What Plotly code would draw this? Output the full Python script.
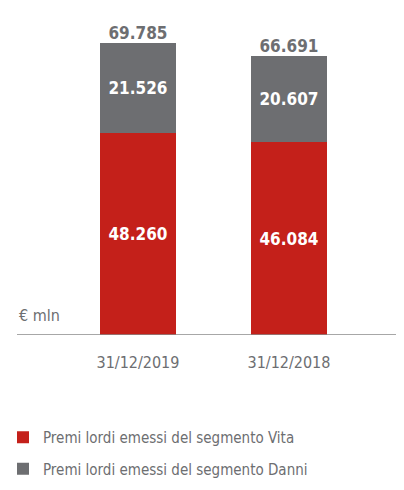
import plotly.graph_objects as go

categories = ["31/12/2019", "31/12/2018"]
vita = [48260, 46084]
danni = [21526, 20607]
totals = [69785, 66691]
vita_labels = ["48.260", "46.084"]
danni_labels = ["21.526", "20.607"]
total_labels = ["69.785", "66.691"]

RED = "#c4201a"
GRAY = "#6d6e71"
TXT = "#6d6e71"
FONT = "DejaVu Sans Condensed, Roboto, Arial"

# The page body has an 8px margin: figure is laid out at 388x474.
W, H = 388, 474
L = 9
PW = W - L

fig = go.Figure()
fig.add_trace(go.Bar(
    x=[0, 1], y=vita, name="Premi lordi emessi del segmento Vita",
    marker=dict(color=RED, line=dict(width=0)), width=0.503,
    text=vita_labels, textposition="inside", insidetextanchor="middle",
    textfont=dict(color="white", size=17, family=FONT, weight="bold"),
    legendgroup="a", hoverinfo="skip"))
fig.add_trace(go.Bar(
    x=[0, 1], y=danni, name="Premi lordi emessi del segmento Danni",
    marker=dict(color=GRAY, line=dict(width=0)), width=0.503,
    text=danni_labels, textposition="inside", insidetextanchor="middle",
    textfont=dict(color="white", size=17, family=FONT, weight="bold"),
    legendgroup="b", hoverinfo="skip"))
fig.add_trace(go.Scatter(
    x=[0, 1], y=totals, mode="text", text=total_labels,
    textposition="top center", showlegend=False,
    textfont=dict(color=TXT, size=17, family=FONT, weight="bold"),
    hoverinfo="skip", cliponaxis=False))

fig.update_layout(
    width=W, height=H, barmode="stack",
    margin=dict(l=L, r=0, t=12, b=147, autoexpand=False),
    paper_bgcolor="white", plot_bgcolor="white",
    font=dict(family=FONT, color=TXT, size=15),
    xaxis=dict(range=[-0.801, 1.709], tickvals=[0, 1], ticktext=categories,
               showgrid=False, zeroline=False, showline=False, ticks="",
               ticklabelstandoff=16,
               tickfont=dict(size=16, color=TXT, family=FONT), fixedrange=True),
    yaxis=dict(range=[0, 75360], showgrid=False, zeroline=False,
               showticklabels=False, showline=False, fixedrange=True),
    legend=dict(x=-14 / PW, xref="paper", y=1 - 413 / H, yref="container",
                xanchor="left", yanchor="top", bgcolor="rgba(0,0,0,0)",
                orientation="v", traceorder="grouped", tracegroupgap=9,
                font=dict(size=15, color=TXT, family=FONT), itemclick=False),
    showlegend=True,
)
fig.add_shape(type="line", xref="paper", yref="y", x0=0, x1=1, y0=0, y1=0,
              line=dict(color="#8a8a8a", width=1.5))
fig.add_annotation(xref="paper", yref="y", x=0, y=0, yshift=20, xanchor="left",
                   yanchor="middle", text="€ mln", showarrow=False,
                   font=dict(size=16, color=TXT, family=FONT))

fig.write_html("out.html")
